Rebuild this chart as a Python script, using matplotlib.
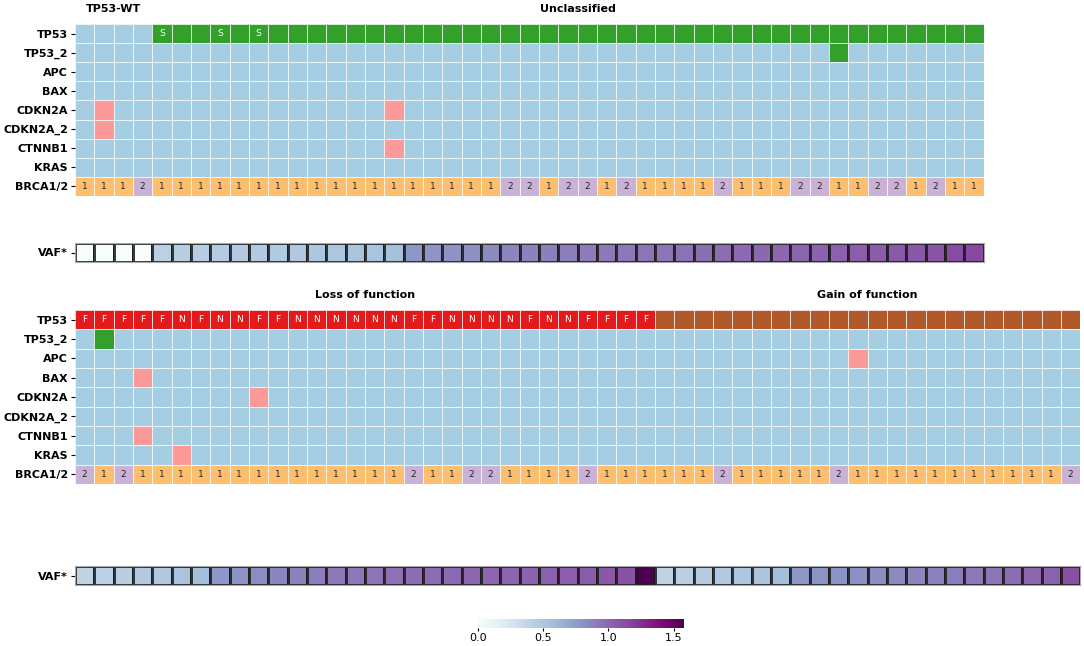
import numpy as np
import matplotlib
matplotlib.use('Agg')
import matplotlib.pyplot as plt
from matplotlib.colors import ListedColormap

# ---- data ----
genes = ['TP53', 'TP53_2', 'APC', 'BAX', 'CDKN2A', 'CDKN2A_2', 'CTNNB1', 'KRAS', 'BRCA1/2']

# TP53 status per sample: W wild type, U unclassified, S unclassified (labelled S),
# F / N loss of function, G gain of function
top_tp53 = 'WWWW' + 'SUUSUS' + 'U' * 37
bot_tp53 = 'FFFFFNFNNFFNNNNNNFFNNNNFNNFFFF' + 'G' * 22

# mutated sample indices for the other genes
top_tp53_2 = [39]
top_apc = []
top_bax = []
top_cdkn2a = [1, 16]
top_cdkn2a_2 = [1]
top_ctnnb1 = [16]
top_kras = []

bot_tp53_2 = [1]
bot_apc = [40]
bot_bax = [3]
bot_cdkn2a = [9]
bot_cdkn2a_2 = []
bot_ctnnb1 = [3]
bot_kras = [5]

top_brca = '11121111111111111111112212212111121112211221211'
bot_brca = '2121111111111111121122111121111112111112111111111112'

top_vaf = [0.0, 0.0, 0.0, 0.0,
           0.42, 0.44, 0.45, 0.46, 0.47, 0.48, 0.48, 0.49, 0.50, 0.51, 0.52, 0.53, 0.55,
           0.78, 0.79, 0.80, 0.81, 0.84, 0.86, 0.88, 0.89, 0.90, 0.91, 0.92, 0.93, 0.94,
           0.95, 0.96, 0.97, 0.98, 0.99, 1.00, 1.01, 1.02, 1.03, 1.04, 1.05, 1.06, 1.07,
           1.08, 1.09, 1.14, 1.16]
bot_vaf = [0.40, 0.42, 0.44, 0.47, 0.49, 0.52, 0.56,
           0.78, 0.80, 0.83, 0.86, 0.88, 0.90, 0.92, 0.93, 0.95, 0.96, 0.97, 0.98, 0.99,
           1.00, 1.01, 1.02, 1.03, 1.04, 1.05, 1.06, 1.08, 1.10, 1.58,
           0.40, 0.43, 0.46, 0.48, 0.50, 0.52, 0.56,
           0.78, 0.79, 0.80, 0.81, 0.83, 0.85, 0.87, 0.88, 0.90, 0.92, 0.95, 0.98, 1.00,
           1.03, 1.12]
vaf_max = 1.58

# colours (Paired palette)
pal = {'W': '#a6cee3', 'U': '#33a02c', 'S': '#33a02c', 'F': '#e31a1c', 'N': '#e31a1c',
       'G': '#b15928', 'mut2': '#33a02c', 'mut': '#fb9a99', '1': '#fdbf6f', '2': '#cab2d6'}
keys = list(pal.keys())
cmap_cat = ListedColormap([pal[k] for k in keys])

LBL = 8


def build(tp53, muts, brca):
    n = len(tp53)
    mat = np.full((len(genes), n), keys.index('W'))
    mat[0] = [keys.index(c) for c in tp53]
    for r, idx in enumerate(muts, start=1):
        for j in idx:
            mat[r, j] = keys.index('mut2' if r == 1 else 'mut')
    mat[-1] = [keys.index(c) for c in brca]
    return mat


W, H = 1084, 646
fig = plt.figure(figsize=(W / 100, H / 100), dpi=100)


def px_axes(x0, y0, x1, y1):
    return fig.add_axes([x0 / W, 1 - y1 / H, (x1 - x0) / W, (y1 - y0) / H])


def heat(ax, tp53, muts, brca):
    mat = build(tp53, muts, brca)
    ax.pcolormesh(mat, cmap=cmap_cat, vmin=-0.5, vmax=len(keys) - 0.5,
                  edgecolors=(1, 1, 1, 0.8), linewidth=0.7)
    ax.set_xlim(0, mat.shape[1])
    ax.set_ylim(mat.shape[0], 0)
    for j, c in enumerate(tp53):
        if c in 'SFN':
            ax.text(j + 0.5, 0.5, c, ha='center', va='center', color='white', fontsize=6.5)
    for j, c in enumerate(brca):
        ax.text(j + 0.5, len(genes) - 0.5, c, ha='center', va='center', color='#262626', fontsize=6.5)
    ax.set_yticks(np.arange(len(genes)) + 0.5)
    ax.set_yticklabels(genes, fontsize=LBL, fontweight='bold')
    ax.tick_params(axis='y', length=3, width=0.8, pad=2)
    ax.set_xticks([])
    for s in ax.spines.values():
        s.set_visible(False)


def vaf_row(ax, vals):
    m = ax.pcolormesh(np.array([vals]), cmap='BuPu', vmin=0, vmax=vaf_max,
                      edgecolors=(0.1, 0.1, 0.1, 0.85), linewidth=1)
    ax.set_xlim(0, len(vals))
    ax.set_ylim(1, 0)
    ax.set_yticks([0.5])
    ax.set_yticklabels(['VAF*'], fontsize=LBL, fontweight='bold')
    ax.tick_params(axis='y', length=3, width=0.8, pad=2)
    ax.set_xticks([])
    for s in ax.spines.values():
        s.set_color('#aaaaaa')
    return m


cw = 19.33
ax1 = px_axes(75, 24, 75 + cw * 47, 196)
heat(ax1, top_tp53, [top_tp53_2, top_apc, top_bax, top_cdkn2a, top_cdkn2a_2, top_ctnnb1, top_kras], top_brca)
ax1.text(2, -0.8, 'TP53-WT', ha='center', va='center', fontsize=LBL, fontweight='bold')
ax1.text(26, -0.8, 'Unclassified', ha='center', va='center', fontsize=LBL, fontweight='bold')

ax2 = px_axes(75, 243, 75 + cw * 47, 262)
vaf_row(ax2, top_vaf)

ax3 = px_axes(75, 310, 75 + cw * 52, 484)
heat(ax3, bot_tp53, [bot_tp53_2, bot_apc, bot_bax, bot_cdkn2a, bot_cdkn2a_2, bot_ctnnb1, bot_kras], bot_brca)
ax3.text(15, -0.75, 'Loss of function', ha='center', va='center', fontsize=LBL, fontweight='bold')
ax3.text(41, -0.75, 'Gain of function', ha='center', va='center', fontsize=LBL, fontweight='bold')

ax4 = px_axes(75, 566, 75 + cw * 52, 585)
mesh = vaf_row(ax4, bot_vaf)

cax = px_axes(478, 619, 684, 628)
cb = fig.colorbar(mesh, cax=cax, orientation='horizontal')
cb.set_ticks([0.0, 0.5, 1.0, 1.5])
cb.ax.tick_params(labelsize=LBL, length=2.5, pad=1)
cb.outline.set_visible(False)

fig.savefig('out.png', dpi=100)
